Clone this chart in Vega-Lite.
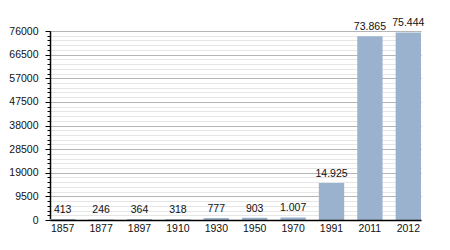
{
  "$schema": "https://vega.github.io/schema/vega-lite/v6.json",
  "autosize": "none",
  "width": 371,
  "height": 189,
  "padding": {"left": 50, "top": 31, "right": 29, "bottom": 30},
  "config": {
    "view": {"stroke": null},
    "font": "Liberation Sans",
    "locale": {"number": {"decimal": ",", "thousands": ".", "grouping": [3], "currency": ["", " €"]}}
  },
  "data": {
    "values": [
      {"year": "1857", "pop": 413},
      {"year": "1877", "pop": 246},
      {"year": "1897", "pop": 364},
      {"year": "1910", "pop": 318},
      {"year": "1930", "pop": 777},
      {"year": "1950", "pop": 903},
      {"year": "1970", "pop": 1007},
      {"year": "1991", "pop": 14925},
      {"year": "2011", "pop": 73865},
      {"year": "2012", "pop": 75444}
    ]
  },
  "encoding": {
    "x": {
      "field": "year",
      "type": "ordinal",
      "sort": null,
      "scale": {"paddingInner": 0.34, "paddingOuter": 0},
      "axis": {
        "title": null,
        "labelAngle": 0,
        "ticks": false,
        "labelPadding": 3,
        "labelFontSize": 10.5,
        "labelColor": "#111",
        "domainColor": "#000",
        "domainWidth": 1.5,
        "zindex": 2
      }
    }
  },
  "layer": [
    {
      "mark": {"type": "bar", "color": "#9ab2cd"},
      "encoding": {
        "y": {
          "field": "pop",
          "type": "quantitative",
          "scale": {"domain": [0, 76000], "nice": false, "zero": true},
          "axis": {
            "orient": "left",
            "title": null,
            "values": [0,1900,3800,5700,7600,9500,11400,13300,15200,17100,19000,20900,22800,24700,26600,28500,30400,32300,34200,36100,38000,39900,41800,43700,45600,47500,49400,51300,53200,55100,57000,58900,60800,62700,64600,66500,68400,70300,72200,74100,76000],
            "labels": false,
            "domain": false,
            "tickSize": 3,
            "tickColor": "#000",
            "grid": true,
            "gridColor": "#e6e6e6",
            "gridWidth": 1,
            "zindex": 0
          }
        }
      }
    },
    {
      "mark": {"type": "text", "baseline": "bottom", "dy": -4, "fontSize": 10.5, "color": "#111"},
      "encoding": {
        "y": {
          "field": "pop",
          "type": "quantitative",
          "axis": {
            "orient": "left",
            "title": null,
            "values": [0,9500,19000,28500,38000,47500,57000,66500,76000],
            "format": "d",
            "labelFontSize": 10.5,
            "labelColor": "#111",
            "labelPadding": 7,
            "tickSize": 5,
            "tickColor": "#000",
            "domainColor": "#000",
            "domainWidth": 1.5,
            "grid": true,
            "gridColor": "#b5b5b5",
            "gridWidth": 1,
            "zindex": 0
          }
        },
        "text": {"field": "pop", "type": "quantitative", "format": ",d"}
      }
    }
  ],
  "resolve": {"axis": {"y": "independent"}}
}
